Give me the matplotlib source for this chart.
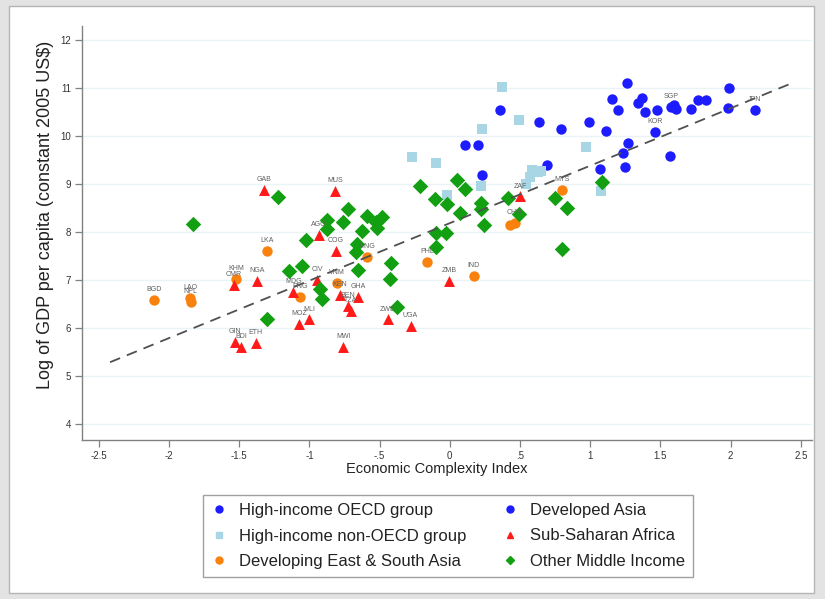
import matplotlib
matplotlib.use("Agg")
import matplotlib.pyplot as plt
from matplotlib.patches import Rectangle
from matplotlib.lines import Line2D

plt.rcParams['font.family'] = ['Liberation Sans', 'DejaVu Sans']

# ---- data ----
oecd_x = [0.356, 0.633, 0.795, 0.107, 0.201, 0.226, 0.692, 1.262, 1.986, 1.155, 1.198, 1.340, 1.372,
          1.388, 1.478, 1.613, 1.715, 1.767, 1.827, 1.981, 0.989, 1.110, 1.269, 1.233, 1.246, 1.068, 1.566]
oecd_y = [10.54, 10.30, 10.14, 9.81, 9.81, 9.19, 9.40, 11.11, 10.99, 10.77, 10.54, 10.68, 10.79,
          10.49, 10.54, 10.56, 10.56, 10.74, 10.74, 10.58, 10.29, 10.10, 9.86, 9.64, 9.35, 9.31, 9.59]

dasia_names = ["SGP", "", "KOR", "JPN"]
dasia_x = [1.578, 1.596, 1.464, 2.171]
dasia_y = [10.61, 10.65, 10.09, 10.54]

nonoecd_x = [0.375, 0.491, 0.226, -0.268, -0.100, 0.589, 0.628, 0.653, 0.569, 0.546, 0.219, -0.023, 0.968, 1.080]
nonoecd_y = [11.01, 10.33, 10.14, 9.57, 9.44, 9.29, 9.26, 9.27, 9.15, 9.01, 8.96, 8.77, 9.78, 8.85]

esasia_names = ["BGD", "LAO", "NPL", "LKA", "KHM", "PNG", "VNM", "MNG", "PHL", "IND", "", "CHN", "MYS"]
esasia_x = [-2.107, -1.851, -1.846, -1.305, -1.523, -1.068, -0.806, -0.593, -0.159, 0.171, 0.427, 0.463, 0.802]
esasia_y = [6.58, 6.63, 6.55, 7.61, 7.02, 6.65, 6.94, 7.49, 7.37, 7.08, 8.15, 8.18, 8.875]

ssa_names = ["GAB", "MUS", "AGO", "COG", "CMR", "NGA", "CIV", "MDG", "MOZ", "MLI", "GIN", "BDI", "ETH",
             "KEN", "GHA", "BEN", "TZA", "ZWE", "UGA", "MWI", "ZMB", "ZAF"]
ssa_x = [-1.322, -0.819, -0.930, -0.814, -1.537, -1.376, -0.944, -1.115, -1.075, -1.001, -1.530, -1.488, -1.381,
         -0.783, -0.652, -0.724, -0.707, -0.443, -0.280, -0.759, -0.005, 0.503]
ssa_y = [8.875, 8.86, 7.94, 7.61, 6.90, 6.98, 7.00, 6.76, 6.08, 6.18, 5.71, 5.61, 5.69,
         6.69, 6.65, 6.46, 6.35, 6.18, 6.04, 5.61, 6.98, 8.74]

other_x = [-1.827, -1.224, -0.878, -0.873, -1.025, -0.764, -0.724, -0.593, -0.486, -0.527, -0.517, -0.628,
           -0.664, -0.669, -0.655, -1.146, -1.056, -0.925, -0.909, -1.305, -0.420, -0.427, -0.379, -0.209,
           0.048, 0.107, -0.105, -0.023, 0.221, 0.221, 0.076, 0.415, 0.747, 0.835, 0.491, 0.244, -0.100,
           -0.028, -0.100, 0.799, 1.084]
other_y = [8.17, 8.72, 8.26, 8.06, 7.83, 8.21, 8.47, 8.33, 8.32, 8.21, 8.08, 8.03,
           7.76, 7.59, 7.22, 7.19, 7.29, 6.81, 6.60, 6.18, 7.36, 7.02, 6.44, 8.96,
           9.08, 8.89, 8.68, 8.58, 8.61, 8.49, 8.40, 8.70, 8.70, 8.51, 8.375, 8.15, 7.99,
           7.97, 7.68, 7.65, 9.05]

fit_x = [-2.42, 2.42]
fit_y = [5.29, 11.08]

xticks = [-2.5, -2, -1.5, -1, -0.5, 0, 0.5, 1, 1.5, 2, 2.5]
xtick_labels = ["-2.5", "-2", "-1.5", "-1", "-.5", "0", ".5", "1", "1.5", "2", "2.5"]
yticks = [4, 5, 6, 7, 8, 9, 10, 11, 12]

# ---- style ----
BLUE = "#1c1cff"
LBLUE = "#a9d6e5"
ORANGE = "#f9820e"
RED = "#ff1a1a"
GREEN = "#12a012"
LABEL_C = "#606060"

W, H = 825, 599
fig = plt.figure(figsize=(W / 100, H / 100), dpi=100, facecolor="#e3e3e3")
bg = Rectangle((9 / W, 1 - 593 / H), (814 - 9) / W, (593 - 6) / H,
               transform=fig.transFigure, facecolor="white",
               edgecolor="#b5b5b5", linewidth=1.0, zorder=-10)
fig.patches.append(bg)

ax = fig.add_axes([82 / W, 1 - 440 / H, (812 - 82) / W, (440 - 26) / H])
ax.set_zorder(2)
ax.set_facecolor("none")
ax.set_xlim(-2.62, 2.58)
ax.set_ylim(3.67, 12.29)

for v in yticks:
    ax.axhline(v, color="#eaf3f5", lw=1.0, zorder=0)

ax.scatter(oecd_x, oecd_y, s=56, marker="o", color=BLUE, linewidths=0, zorder=3)
ax.scatter(dasia_x, dasia_y, s=56, marker="o", color=BLUE, linewidths=0, zorder=3)
ax.scatter(nonoecd_x, nonoecd_y, s=50, marker="s", color=LBLUE, linewidths=0, zorder=3)
ax.scatter(esasia_x, esasia_y, s=56, marker="o", color=ORANGE, linewidths=0, zorder=3)
ax.scatter(ssa_x, ssa_y, s=62, marker="^", color=RED, linewidths=0, zorder=3)
ax.scatter(other_x, other_y, s=62, marker="D", color=GREEN, linewidths=0, zorder=3)

ax.plot(fit_x, fit_y, color="#505050", lw=1.3, dashes=(6, 4), zorder=4)

for names, xs, ys in [(dasia_names, dasia_x, dasia_y), (esasia_names, esasia_x, esasia_y),
                      (ssa_names, ssa_x, ssa_y)]:
    for n, x, y in zip(names, xs, ys):
        if n:
            ax.annotate(n, (x, y), xytext=(0, 5), textcoords="offset points",
                        ha="center", va="bottom", fontsize=5, color=LABEL_C, zorder=5)

for s in ["top", "right"]:
    ax.spines[s].set_visible(False)
for s in ["left", "bottom"]:
    ax.spines[s].set_color("#808080")
    ax.spines[s].set_linewidth(1.0)

ax.set_xticks(xticks)
ax.set_xticklabels(xtick_labels)
ax.set_yticks(yticks)
ax.set_yticklabels([str(v) for v in yticks])
ax.tick_params(axis="both", length=5, width=0.9, color="#808080", labelsize=7, labelcolor="#333333", pad=3)

ax.set_xlabel("Economic Complexity Index", fontsize=10.5, color="#222222")
ax.xaxis.set_label_coords((437 - 82) / 730, (440 - 462) / 414)
ax.set_ylabel("Log of GDP per capita (constant 2005 US$)", fontsize=13, color="#222222")
ax.yaxis.set_label_coords((54 - 82) / 730, (440 - 215) / 414)

handles = [
    Line2D([], [], ls="", marker="o", color=BLUE, markersize=5),
    Line2D([], [], ls="", marker="s", color=LBLUE, markersize=5),
    Line2D([], [], ls="", marker="o", color=ORANGE, markersize=5),
    Line2D([], [], ls="", marker="o", color=BLUE, markersize=5),
    Line2D([], [], ls="", marker="^", color=RED, markersize=5),
    Line2D([], [], ls="", marker="D", color=GREEN, markersize=4.5),
]
labels = ["High-income OECD group", "High-income non-OECD group", "Developing East & South Asia",
          "Developed Asia", "Sub-Saharan Africa", "Other Middle Income"]
leg = fig.legend(handles, labels, ncol=2, loc="center", bbox_to_anchor=(448 / W, 1 - 536 / H),
                 fontsize=12, frameon=True, fancybox=False, edgecolor="#888888",
                 handlelength=1.0, handletextpad=0.7, columnspacing=2.1, labelspacing=0.62,
                 borderpad=0.5)
leg.get_frame().set_linewidth(1.0)
for t in leg.get_texts():
    t.set_color("#222222")

fig.savefig("out.png", dpi=100, facecolor=fig.get_facecolor())
